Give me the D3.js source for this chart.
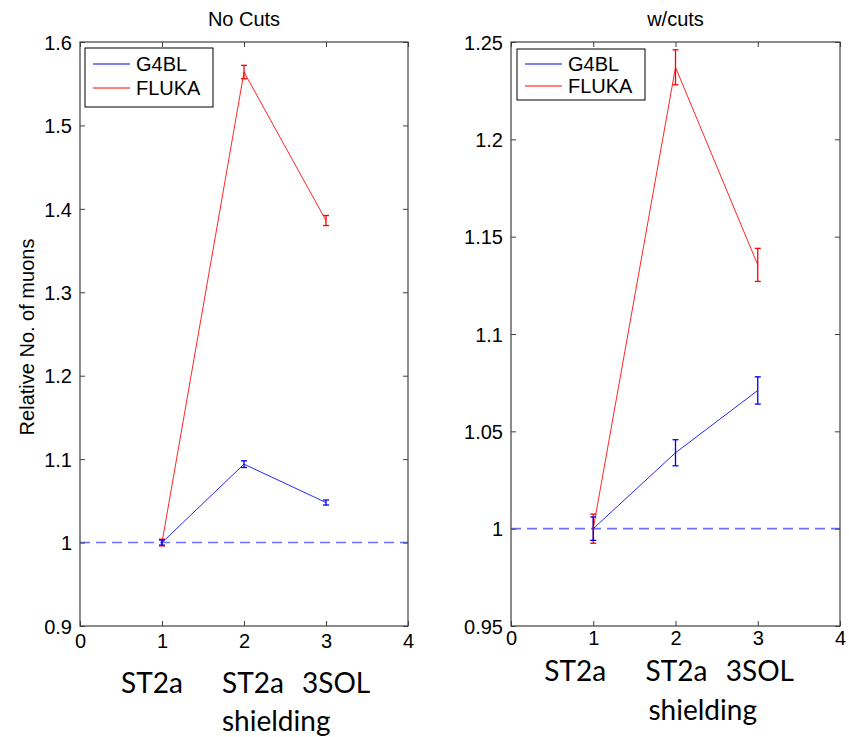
<!DOCTYPE html>
<html><head><meta charset="utf-8">
<script src="https://cdn.jsdelivr.net/npm/d3@7"></script>
<style>body{margin:0;background:#fff}svg{display:block}</style>
</head><body>
<svg id="c" width="849" height="737"></svg>
<script>
const xs = [1, 2, 3];
const seriesNames = ["G4BL", "FLUKA"];
// No Cuts panel
const noCutsG4BL = [1.000, 1.094, 1.048];
const noCutsG4BLErr = [0.003, 0.004, 0.003];
const noCutsFLUKA = [1.000, 1.564, 1.386];
const noCutsFLUKAErr = [0.004, 0.008, 0.006];
// w/cuts panel
const cutsG4BL = [1.000, 1.039, 1.071];
const cutsG4BLErr = [0.006, 0.0067, 0.007];
const cutsFLUKA = [1.000, 1.237, 1.1355];
const cutsFLUKAErr = [0.0075, 0.009, 0.0085];
const xTicks = [0, 1, 2, 3, 4];
const yTicksLeft = [0.9, 1.0, 1.1, 1.2, 1.3, 1.4, 1.5, 1.6];
const yTicksRight = [0.95, 1.0, 1.05, 1.1, 1.15, 1.2, 1.25];
const yTickLabelsLeft = ["0.9","1","1.1","1.2","1.3","1.4","1.5","1.6"];
const yTickLabelsRight = ["0.95","1","1.05","1.1","1.15","1.2","1.25"];
const titles = ["No Cuts", "w/cuts"];
const yLabel = "Relative No. of muons";
const categoryLabels = ["ST2a", "ST2a", "3SOL"];
const categorySubLabel = "shielding";
const refValue = 1;

const svg = d3.select("#c");
const colors = {G4BL: "#0000ff", FLUKA: "#ff0000"};

const panels = [
  {x0: 80, x1: 408, y0: 42, y1: 626, dom: [0.9, 1.6], ticks: yTicksLeft, labels: yTickLabelsLeft,
   title: titles[0], g: noCutsG4BL, ge: noCutsG4BLErr, f: noCutsFLUKA, fe: noCutsFLUKAErr,
   legend: {x: 85, y: 48, w: 128, h: 59, dy: 24, y0: 16}, pad: 8,
   cat: {y1: 693, y2: 731, off: [-41, -22, -24], subOff: -22}},
  {x0: 511, x1: 840, y0: 42, y1: 626, dom: [0.95, 1.25], ticks: yTicksRight, labels: yTickLabelsRight,
   title: titles[1], g: cutsG4BL, ge: cutsG4BLErr, f: cutsFLUKA, fe: cutsFLUKAErr,
   legend: {x: 517, y: 49, w: 128, h: 51, dy: 22, y0: 15}, pad: 5,
   cat: {y1: 681, y2: 720, off: [-49, -30, -32], subOff: -27}}
];

panels.forEach((p, pi) => {
  const x = d3.scaleLinear().domain([0, 4]).range([p.x0, p.x1]);
  const y = d3.scaleLinear().domain(p.dom).range([p.y1, p.y0]);
  const g = svg.append("g");
  const axisColor = "#404040";
  const tickFont = "Liberation Sans, Arial, sans-serif";

  // reference dashed line
  g.append("line").attr("x1", x(0)).attr("x2", x(4)).attr("y1", y(refValue)).attr("y2", y(refValue))
    .attr("stroke", "#6f6fff").attr("stroke-width", 1.6).attr("stroke-dasharray", "10,6");

  const series = [
    {name: "FLUKA", v: p.f, e: p.fe},
    {name: "G4BL", v: p.g, e: p.ge}
  ];
  series.forEach(s => {
    const pts = xs.map((xv, i) => [xv, s.v[i], s.e[i]]);
    g.append("path").datum(pts)
      .attr("d", d3.line().x(d => x(d[0])).y(d => y(d[1])))
      .attr("fill", "none").attr("stroke", colors[s.name]).attr("stroke-width", 1).attr("opacity", 0.85);
    const eb = g.selectAll(null).data(pts).enter().append("g").attr("stroke", colors[s.name]).attr("stroke-width", 1.3);
    eb.append("line").attr("x1", d => x(d[0])).attr("x2", d => x(d[0]))
      .attr("y1", d => y(d[1] - d[2])).attr("y2", d => y(d[1] + d[2]));
    eb.append("line").attr("x1", d => x(d[0]) - 3).attr("x2", d => x(d[0]) + 3)
      .attr("y1", d => y(d[1] - d[2])).attr("y2", d => y(d[1] - d[2]));
    eb.append("line").attr("x1", d => x(d[0]) - 3).attr("x2", d => x(d[0]) + 3)
      .attr("y1", d => y(d[1] + d[2])).attr("y2", d => y(d[1] + d[2]));
  });

  // frame
  g.append("rect").attr("x", p.x0).attr("y", p.y0).attr("width", p.x1 - p.x0).attr("height", p.y1 - p.y0)
    .attr("fill", "none").attr("stroke", axisColor).attr("stroke-width", 1.2);

  // axes with inward ticks
  const xb = d3.axisBottom(x).tickValues(xTicks).tickSize(-5).tickPadding(p.pad).tickFormat(d3.format("d"));
  const gx = g.append("g").attr("transform", `translate(0,${p.y1})`).call(xb);
  const xt = d3.axisTop(x).tickValues(xTicks).tickSize(-5).tickFormat("");
  const gxt = g.append("g").attr("transform", `translate(0,${p.y0})`).call(xt);
  const yl = d3.axisLeft(y).tickValues(p.ticks).tickSize(-5).tickPadding(8).tickFormat((d, i) => p.labels[i]);
  const gy = g.append("g").attr("transform", `translate(${p.x0},0)`).call(yl);
  const yr = d3.axisRight(y).tickValues(p.ticks).tickSize(-5).tickFormat("");
  const gyr = g.append("g").attr("transform", `translate(${p.x1},0)`).call(yr);
  [gx, gxt, gy, gyr].forEach(a => {
    a.select(".domain").remove();
    a.selectAll(".tick line").attr("stroke", axisColor);
    a.selectAll("text").attr("font-family", tickFont).attr("font-size", 20).attr("fill", "#000");
  });
  gx.selectAll("text").attr("dy", "0.71em");
  gy.selectAll("text").attr("dy", "0.36em");

  // title
  g.append("text").attr("x", (p.x0 + p.x1) / 2).attr("y", 26).attr("text-anchor", "middle")
    .attr("font-family", tickFont).attr("font-size", 20).text(p.title);

  // legend
  const L = p.legend;
  g.append("rect").attr("x", L.x).attr("y", L.y).attr("width", L.w).attr("height", L.h)
    .attr("fill", "#fff").attr("stroke", "#000").attr("stroke-width", 1);
  seriesNames.forEach((n, i) => {
    const ly = L.y + L.y0 + i * L.dy;
    g.append("line").attr("x1", L.x + 8).attr("x2", L.x + 45).attr("y1", ly).attr("y2", ly)
      .attr("stroke", colors[n]).attr("stroke-width", 1);
    g.append("text").attr("x", L.x + 51).attr("y", ly).attr("dy", "0.36em")
      .attr("font-family", tickFont).attr("font-size", 20).text(n);
  });

  // category labels
  const catFont = "Lato, 'Open Sans', sans-serif";
  categoryLabels.forEach((t, i) => {
    g.append("text").attr("x", x(xs[i]) + p.cat.off[i]).attr("y", p.cat.y1)
      .attr("font-family", catFont).attr("font-size", 28).text(t);
  });
  g.append("text").attr("x", x(xs[1]) + p.cat.subOff).attr("y", p.cat.y2)
    .attr("font-family", catFont).attr("font-size", 28).text(categorySubLabel);

  if (pi === 0) {
    g.append("text").attr("transform", `translate(34,${(p.y0 + p.y1) / 2 + 3}) rotate(-90)`)
      .attr("text-anchor", "middle").attr("font-family", tickFont).attr("font-size", 20).text(yLabel);
  }
});
</script>
</body></html>
